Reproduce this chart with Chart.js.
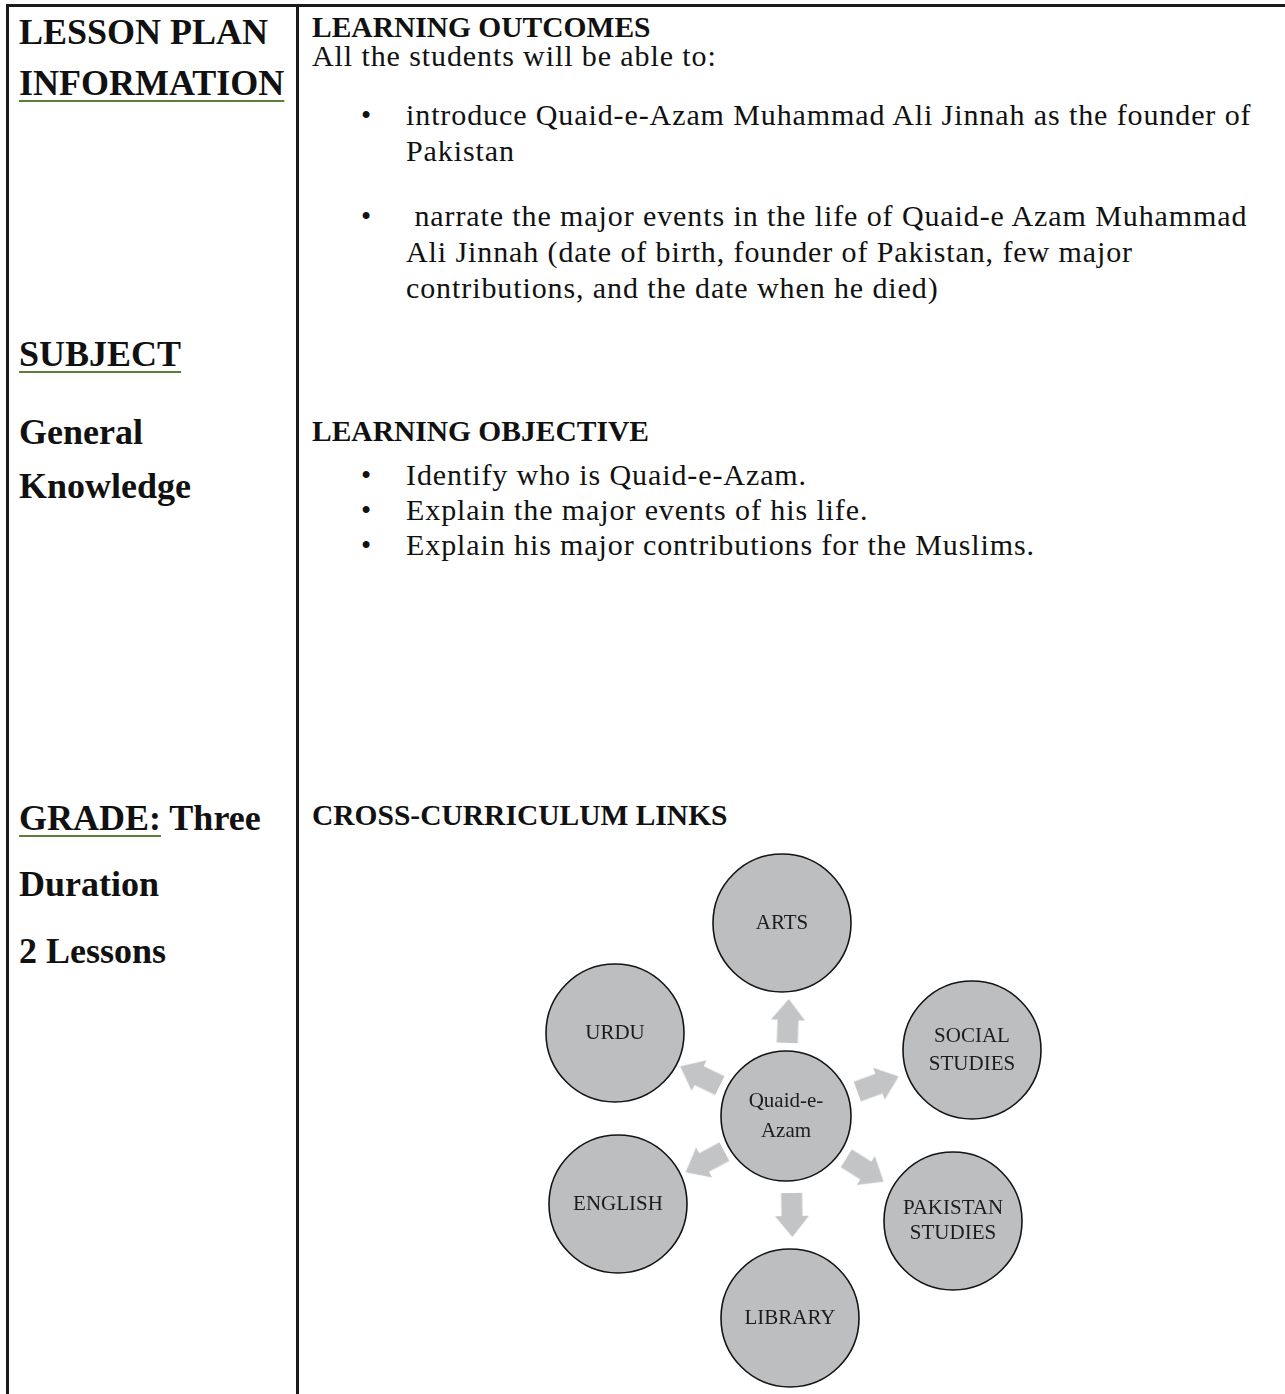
<!DOCTYPE html>
<html>
<head>
<meta charset="utf-8">
<title>Lesson Plan - Quaid-e-Azam</title>
<script src="https://cdn.jsdelivr.net/npm/chart.js@4.4.1/dist/chart.umd.min.js"></script>
<style>
    body { margin: 0; background: #fff; }
    #page { position: relative; width: 1285px; height: 1394px; overflow: hidden; font-family: "Liberation Serif", "Times New Roman", serif; color: #111; }
    .rule { position: absolute; background: #1a1a1a; }
    .t { position: absolute; white-space: nowrap; line-height: 1; }
    .left { left: 19px; font-size: 36px; font-weight: bold; }
    .head { left: 312px; font-size: 29.5px; font-weight: bold; }
    .body { left: 312px; font-size: 30px; letter-spacing: 0.9px; }
    .item { left: 406px; font-size: 30px; letter-spacing: 0.9px; }
    .bul { left: 361px; font-size: 29px; }
    .u { text-decoration: underline; text-decoration-color: #5b7f3b; text-decoration-thickness: 2px; text-underline-offset: 5px; }
    #diagramWrap { position: absolute; left: 300px; top: 840px; width: 985px; height: 554px; }
</style>
</head>
<body>
<div id="page">
    <!-- table lines -->
    <div class="rule" style="left:6px;top:4px;width:1279px;height:3px;"></div>
    <div class="rule" style="left:6px;top:4px;width:3px;height:1390px;"></div>
    <div class="rule" style="left:296px;top:4px;width:3px;height:1390px;"></div>

    <!-- left column -->
    <div class="t left" style="top:14px;">LESSON PLAN</div>
    <div class="t left" style="top:65px;"><span class="u">INFORMATION</span></div>
    <div class="t left" style="top:336px;"><span class="u">SUBJECT</span></div>
    <div class="t left" style="top:414px;">General</div>
    <div class="t left" style="top:468px;">Knowledge</div>
    <div class="t left" style="top:800px;"><span class="u">GRADE:</span> Three</div>
    <div class="t left" style="top:866px;">Duration</div>
    <div class="t left" style="top:933px;">2 Lessons</div>

    <!-- right column -->
    <div class="t head" style="top:13px;">LEARNING OUTCOMES</div>
    <div class="t body" style="top:41px;">All the students will be able to:</div>

    <div class="t bul" style="top:101px;">•</div>
    <div class="t item" style="top:100px;">introduce Quaid-e-Azam Muhammad Ali Jinnah as the founder of</div>
    <div class="t item" style="top:136px;">Pakistan</div>

    <div class="t bul" style="top:202px;">•</div>
    <div class="t item" style="top:201px;">&nbsp;narrate the major events in the life of Quaid-e Azam Muhammad</div>
    <div class="t item" style="top:237px;">Ali Jinnah (date of birth, founder of Pakistan, few major</div>
    <div class="t item" style="top:273px;">contributions, and the date when he died)</div>

    <div class="t head" style="top:417px;">LEARNING OBJECTIVE</div>
    <div class="t bul" style="top:461px;">•</div>
    <div class="t item" style="top:460px;">Identify who is Quaid-e-Azam.</div>
    <div class="t bul" style="top:496px;">•</div>
    <div class="t item" style="top:495px;">Explain the major events of his life.</div>
    <div class="t bul" style="top:531px;">•</div>
    <div class="t item" style="top:530px;">Explain his major contributions for the Muslims.</div>

    <div class="t head" style="top:801px;">CROSS-CURRICULUM LINKS</div>

    <div id="diagramWrap"><canvas id="diagramChart" width="985" height="554"></canvas></div>
</div>

<script>
// Diagram data (units relative to the hub, y pointing up)
const nodeLabels = [['ARTS'], ['URDU'], ['SOCIAL', 'STUDIES'], ['Quaid-e-', 'Azam'], ['ENGLISH'], ['PAKISTAN', 'STUDIES'], ['LIBRARY']];
const nodeX = [-4, -171, 186, 0, -168, 167, 4];
const nodeY = [193, 83, 66, 0, -88, -105, -202];
const nodeR = [69, 69, 69, 65, 69, 69, 69];

const arrowX = [2, -86, 92, -81, 79, 6];
const arrowY = [95, 40, 32, -46, -54, -99];
const arrowAngle = [-88, -154, -20, 152, 32, 89];

// Axis ranges of the drawing area
const xRange = [-486, 499];
const yRange = [-278, 276];

// line gap of the two-line labels
const labelGap = [0, 0, 28, 30, 0, 25, 0];

// Block arrow pointing right, used as point style
function makeArrow() {
    const c = document.createElement('canvas');
    c.width = 44;
    c.height = 36;
    const g = c.getContext('2d');
    g.fillStyle = '#c3c4c6';
    g.beginPath();
    g.moveTo(0, 7.5);
    g.lineTo(23, 7.5);
    g.lineTo(23, 1);
    g.lineTo(44, 18);
    g.lineTo(23, 35);
    g.lineTo(23, 28.5);
    g.lineTo(0, 28.5);
    g.closePath();
    g.fill();
    return c;
}

// Draws the text inside each circle
const nodeTextPlugin = {
    id: 'nodeText',
    afterDatasetsDraw(chart) {
        const ctx = chart.ctx;
        const meta = chart.getDatasetMeta(1);
        ctx.save();
        ctx.fillStyle = '#1c1c1c';
        ctx.font = '21px "Liberation Serif", "Times New Roman", serif';
        ctx.textAlign = 'center';
        ctx.textBaseline = 'middle';
        meta.data.forEach((pt, i) => {
            const lines = nodeLabels[i];
            const step = labelGap[i];
            const start = pt.y - (lines.length - 1) * step / 2;
            lines.forEach((line, j) => {
                ctx.fillText(line, pt.x, start + j * step);
            });
        });
        ctx.restore();
    }
};

const arrowImg = makeArrow();

new Chart(document.getElementById('diagramChart'), {
    type: 'bubble',
    data: {
        datasets: [
            {
                type: 'scatter',
                label: 'links',
                data: arrowX.map((x, i) => ({ x: x, y: arrowY[i] })),
                pointStyle: arrowImg,
                rotation: arrowAngle,
                pointRadius: 20
            },
            {
                label: 'subjects',
                data: nodeX.map((x, i) => ({ x: x, y: nodeY[i], r: nodeR[i] })),
                backgroundColor: '#bdbec0',
                borderColor: '#141414',
                borderWidth: 1.6
            }
        ]
    },
    options: {
        responsive: false,
        animation: false,
        clip: false,
        layout: { autoPadding: false, padding: 0 },
        plugins: {
            legend: { display: false },
            tooltip: { enabled: false }
        },
        events: [],
        scales: {
            x: { type: 'linear', min: xRange[0], max: xRange[1], display: false },
            y: { type: 'linear', min: yRange[0], max: yRange[1], display: false }
        }
    },
    plugins: [nodeTextPlugin]
});
</script>
</body>
</html>
